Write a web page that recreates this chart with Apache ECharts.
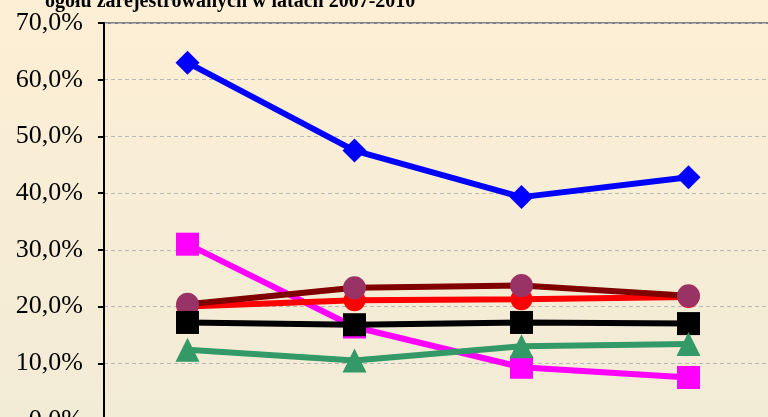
<!DOCTYPE html>
<html>
<head>
<meta charset="utf-8">
<script src="https://cdn.jsdelivr.net/npm/echarts@6/dist/echarts.min.js"></script>
<style>
  html, body { margin: 0; padding: 0; }
  #chart { width: 768px; height: 417px; }
</style>
</head>
<body>
<div id="chart"></div>
<script>
// lata
const years = ['2007', '2008', '2009', '2010']

// wartości w %
const blueSeries = [63.0, 47.5, 39.3, 42.8]
const pinkSeries = [31.0, 16.4, 9.3, 7.5]
const redSeries = [20.0, 21.1, 21.3, 21.7]
const maroonSeries = [20.4, 23.3, 23.7, 21.9]
const blackSeries = [17.2, 16.8, 17.2, 17.0]
const greenSeries = [12.4, 10.5, 13.0, 13.4]

// oś y
const yMin = 0
const yMax = 70
const yStep = 10

const titleText = 'ogółu zarejestrowanych w latach 2007-2010'

const chart = echarts.init(document.getElementById('chart'))

function makeLine(data, lineColor, symbol, symbolColor, symbolSize) {
    return {
        type: 'line',
        data: data,
        symbol: symbol,
        symbolSize: symbolSize,
        lineStyle: { color: lineColor, width: 6 },
        itemStyle: { color: symbolColor, borderWidth: 0 },
        emphasis: { disabled: true },
        animation: false
    }
}

const option = {
    backgroundColor: {
        type: 'linear', x: 0, y: 0, x2: 0, y2: 1,
        colorStops: [
            { offset: 0, color: '#fdefd5' },
            { offset: 1, color: '#f2ebd6' }
        ]
    },
    title: {
        text: titleText,
        left: 40,
        top: -13,
        textStyle: {
            fontFamily: 'Liberation Serif',
            fontWeight: 'bold',
            fontSize: 20,
            color: '#000'
        }
    },
    grid: {
        left: 104,
        top: 23,
        width: 668,
        height: 397,
        containLabel: false,
        outerBoundsMode: 'none',
        show: true,
        borderColor: '#808080',
        borderWidth: 2,
        backgroundColor: 'transparent'
    },
    xAxis: {
        type: 'category',
        data: years,
        boundaryGap: true,
        axisLine: { show: false },
        axisTick: { show: false },
        axisLabel: { show: false }
    },
    yAxis: {
        type: 'value',
        min: yMin,
        max: yMax,
        interval: yStep,
        axisLine: { show: true, lineStyle: { color: '#000', width: 2 } },
        axisTick: { show: true, length: 6, lineStyle: { color: '#000', width: 2 } },
        axisLabel: {
            margin: 21,
            fontFamily: 'Liberation Serif',
            fontSize: 26,
            color: '#000',
            formatter: v => v.toFixed(1).replace('.', ',') + '%'
        },
        splitLine: { lineStyle: { color: '#b8b8b8', type: [4, 3], width: 1 } }
    },
    series: [
        makeLine(blueSeries, '#0000ff', 'diamond', '#0000ff', 24),
        makeLine(pinkSeries, '#ff00ff', 'rect', '#ff00ff', 23),
        makeLine(redSeries, '#ff0000', 'circle', '#ff0000', 22),
        makeLine(maroonSeries, '#800000', 'circle', '#993366', 23),
        makeLine(blackSeries, '#000000', 'rect', '#000000', 23),
        makeLine(greenSeries, '#339966', 'triangle', '#339966', 24)
    ]
}

chart.setOption(option)
</script>
</body>
</html>
